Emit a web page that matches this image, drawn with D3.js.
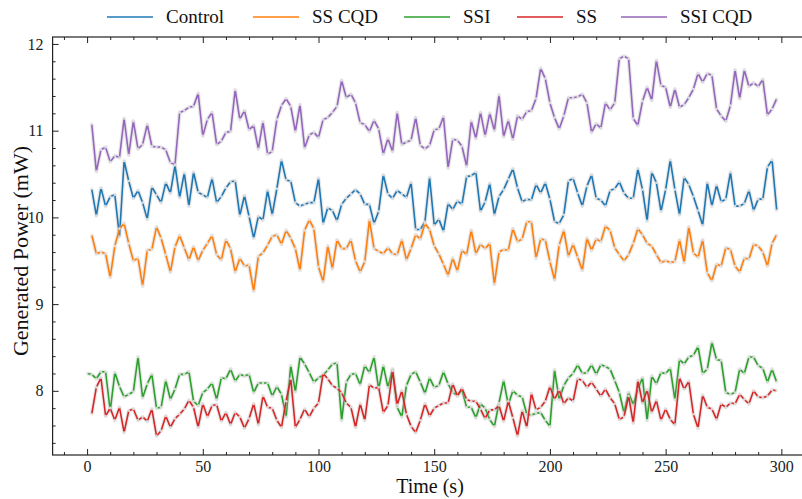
<!DOCTYPE html>
<html><head><meta charset="utf-8">
<script src="https://cdn.jsdelivr.net/npm/d3@7"></script>
<style>body{margin:0;background:#fff;} svg{display:block;}</style>
</head><body>
<script>
const time = d3.range(0, 300, 2); // 0..298 s
const seriesNames = ["Control", "SS CQD", "SSI", "SS", "SSI CQD"];
const colors = ["#1f77b4", "#ff7f0e", "#2ca02c", "#d62728", "#9467bd"];
const control = [null,
10.33,10.02,10.34,10.13,10.24,10.26,9.78,10.65,10.42,10.22,10.31,10.17,9.98,10.35,10.26,10.17,10.40,10.28,10.60,10.23,
10.51,10.13,10.52,10.29,10.26,10.23,10.45,10.17,10.24,10.34,10.41,10.42,10.02,10.25,10.01,9.76,10.01,9.97,10.31,10.03,
10.33,10.66,10.43,10.42,10.17,10.13,10.15,10.17,10.17,10.45,
9.93,10.11,10.08,9.96,10.15,10.22,10.27,10.32,10.27,10.15,10.15,9.93,10.07,10.49,10.27,10.22,10.31,10.27,10.23,10.40,
9.86,9.86,9.95,10.46,9.91,9.98,9.84,10.16,10.09,10.19,10.15,10.47,10.48,10.52,10.07,10.18,10.39,10.03,10.24,10.32,
10.44,10.56,10.34,10.18,10.21,10.20,10.38,10.28,10.40,10.21,9.95,9.93,
10.03,10.42,10.45,10.28,10.13,10.36,10.49,10.22,10.20,10.13,10.31,10.33,10.41,10.28,10.22,10.22,10.56,10.32,9.96,10.52,
10.40,10.07,10.32,10.66,10.32,10.03,10.46,10.38,10.24,10.08,9.91,10.40,10.13,10.37,10.18,10.21,10.52,10.13,10.13,10.16,
10.31,10.08,10.21,10.21,10.58,10.66,10.08];
const ssCqd = [null,
9.80,9.58,9.60,9.58,9.31,9.67,9.87,9.93,9.70,9.50,9.53,9.21,9.62,9.63,9.89,9.76,9.57,9.37,9.66,9.79,
9.65,9.51,9.66,9.50,9.62,9.70,9.79,9.57,9.51,9.74,9.64,9.37,9.53,9.44,9.45,9.15,9.55,9.59,9.68,9.78,
9.80,9.69,9.85,9.76,9.64,9.39,9.85,9.97,9.87,9.43,
9.26,9.67,9.41,9.74,9.64,9.64,9.74,9.50,9.37,9.49,9.97,9.64,9.61,9.58,9.65,9.58,9.57,9.74,9.51,9.64,
9.80,9.75,9.93,9.86,9.67,9.58,9.46,9.33,9.53,9.38,9.62,9.57,9.85,9.58,9.69,9.64,9.70,9.23,9.60,9.63,
9.62,9.87,9.72,9.75,9.95,9.95,9.53,9.75,9.74,9.49,9.28,9.68,
9.85,9.55,9.69,9.54,9.39,9.76,9.62,9.75,9.72,9.90,9.85,9.65,9.57,9.50,9.57,9.70,9.87,9.80,9.70,9.67,
9.57,9.48,9.50,9.48,9.49,9.74,9.48,9.89,9.59,9.54,9.74,9.36,9.27,9.46,9.44,9.65,9.63,9.44,9.37,9.53,
9.52,9.69,9.67,9.60,9.44,9.70,9.80];
const ssi = [8.20,
8.19,8.14,8.22,8.22,7.77,8.21,8.05,7.93,7.96,7.99,8.39,7.92,8.08,8.19,7.80,7.81,8.12,7.90,8.02,8.19,
8.19,8.22,7.88,7.83,7.98,8.02,8.09,7.90,8.15,8.14,8.25,8.11,8.19,8.17,8.19,7.98,8.09,8.09,8.09,7.94,
8.05,7.96,7.70,8.29,7.99,8.39,8.31,8.21,8.10,8.15,
8.18,8.24,8.31,8.32,7.66,8.10,8.19,8.20,8.07,8.29,8.21,8.39,8.02,8.29,8.04,8.25,7.81,7.70,8.06,8.19,
8.22,8.10,7.97,8.15,8.04,8.06,8.22,8.08,7.98,7.95,8.01,7.81,7.81,7.69,7.85,7.80,7.67,7.59,7.86,8.12,
7.84,8.00,7.95,7.93,7.73,7.72,7.74,7.75,7.66,7.59,8.24,7.90,
8.06,8.15,8.20,8.30,8.20,8.21,8.30,8.19,8.30,8.28,8.25,8.12,7.98,7.75,7.98,7.84,8.02,8.15,7.66,8.17,
8.08,8.21,8.20,8.26,7.90,8.36,8.31,8.39,8.41,8.51,8.20,8.25,8.56,8.36,8.35,7.98,7.96,7.98,8.25,8.20,
8.39,8.39,8.29,8.26,8.10,8.25,8.10];
const ss = [null,
7.73,8.04,8.15,7.71,7.80,7.66,7.81,7.52,7.77,7.79,7.66,7.70,7.65,7.79,7.48,7.54,7.71,7.58,7.68,7.73,
7.79,7.89,7.81,7.58,7.85,7.70,7.83,7.84,7.65,7.75,7.61,7.75,7.70,7.57,7.68,7.85,7.61,7.94,7.81,7.80,
7.66,7.58,7.88,8.14,7.58,7.67,7.79,7.70,7.80,7.86,
8.20,8.14,8.06,8.03,7.98,7.86,7.81,7.58,7.85,7.66,8.07,8.03,8.04,7.75,7.83,8.23,7.84,8.00,7.73,7.59,
7.52,7.66,7.85,7.71,7.80,7.83,7.86,7.86,8.08,7.94,8.03,7.90,7.88,7.88,7.79,7.68,7.78,7.78,7.83,7.65,
7.88,7.69,7.48,7.77,7.58,7.97,7.78,7.81,7.88,8.05,7.90,8.01,
7.85,7.92,7.88,8.14,8.12,8.04,8.10,8.02,7.94,8.02,7.92,7.85,7.67,7.70,7.94,7.63,8.12,7.86,8.01,7.75,
7.89,7.66,7.79,7.67,7.61,8.15,8.02,8.11,7.73,7.57,7.95,7.81,7.79,7.67,7.85,7.81,7.86,7.85,7.96,7.90,
7.85,8.00,7.93,7.92,7.94,8.01,8.00];
const ssiCqd = [null,
11.08,10.53,10.78,10.81,10.64,10.71,10.69,11.14,10.72,11.11,10.79,10.84,11.07,10.82,10.81,10.81,10.78,10.63,10.61,11.21,
11.23,11.27,11.28,11.43,10.94,11.13,11.21,10.84,10.88,10.98,10.99,11.47,11.13,11.23,11.01,11.06,10.79,11.10,10.73,10.76,
11.13,11.29,11.37,11.28,10.99,11.30,10.80,10.95,10.98,10.92,11.13,11.15,
11.21,11.28,11.58,11.38,11.42,11.32,11.09,11.07,10.99,11.12,11.02,10.73,10.91,10.76,11.21,10.84,10.87,10.89,11.15,10.83,
10.79,10.83,11.01,11.02,11.16,10.57,10.90,10.89,10.82,10.59,11.11,10.91,11.21,10.94,11.20,11.00,11.41,10.93,11.12,10.90,
11.17,11.13,11.22,11.23,11.37,11.72,11.60,11.32,11.15,11.02,11.17,11.38,
11.38,11.39,11.42,11.32,10.98,11.08,11.03,11.32,11.24,11.32,11.83,11.86,11.83,11.14,11.06,11.34,11.50,11.35,11.81,11.52,
11.50,11.27,11.48,11.27,11.30,11.38,11.48,11.66,11.56,11.66,11.64,11.25,11.17,11.11,11.29,11.70,11.37,11.70,11.51,11.55,
11.51,11.59,11.18,11.25,11.37];
const xTicks = [0, 50, 100, 150, 200, 250, 300];
const yTicks = [8, 9, 10, 11, 12];
const xLabel = "Time (s)";
const yLabel = "Generated Power (mW)";

const allSeries = [control, ssCqd, ssi, ss, ssiCqd];
const W = 802, H = 499;
const mLeft = 52.6, mTop = 37, mBottom = 455;
const x = d3.scaleLinear().domain([-14.9, 312.9]).range([mLeft, 811.2]);
const y = d3.scaleLinear().domain([7.26, 12.08]).range([mBottom, mTop]);
const mRight = x.range()[1];

const svg = d3.select("body").append("svg").attr("width", W).attr("height", H);
const serif = "'Liberation Serif', 'DejaVu Serif', serif";

const plot = svg.append("g");
const line = d3.line().defined(d => d[1] != null).x(d => x(d[0])).y(d => y(d[1]));

allSeries.forEach((vals, i) => {
  const pts = time.map((t, k) => [t, vals[k]]);
  plot.append("path").attr("d", line(pts)).attr("fill", "none")
    .attr("stroke", "#bdbdbd").attr("stroke-opacity", 0.35).attr("stroke-width", 4)
    .attr("stroke-linejoin", "round");
  plot.append("path").attr("d", line(pts)).attr("fill", "none")
    .attr("stroke", colors[i]).attr("stroke-width", 1.6).attr("stroke-linejoin", "round");
  plot.append("g").selectAll("circle").data(pts.filter(p => p[1] != null)).join("circle")
    .attr("cx", p => x(p[0])).attr("cy", p => y(p[1])).attr("r", 1.3)
    .attr("fill", "#e4e4e4").attr("fill-opacity", 0.9);
});

svg.append("rect").attr("x", mLeft).attr("y", mTop).attr("width", mRight - mLeft).attr("height", mBottom - mTop)
  .attr("fill", "none").attr("stroke", "#222").attr("stroke-width", 1.2);

const xMinor = d3.range(-10, 311, 10).filter(v => v % 50 !== 0);
const yMinor = d3.range(7.4, 12.05, 0.2).map(v => +v.toFixed(1)).filter(v => Math.abs(v - Math.round(v)) > 1e-6);

function styleAxis(g) { g.select(".domain").remove(); g.selectAll("line").attr("stroke", "#222").attr("stroke-width", 1); }

svg.append("g").attr("transform", `translate(0,${mBottom})`)
  .call(d3.axisBottom(x).tickValues(xTicks).tickSize(-6).tickPadding(6).tickFormat(d3.format("d")))
  .call(styleAxis).call(g => g.selectAll("text").attr("font-family", serif).attr("font-size", 16).attr("fill", "#222"));
svg.append("g").attr("transform", `translate(0,${mBottom})`)
  .call(d3.axisBottom(x).tickValues(xMinor).tickSize(-3).tickFormat("")).call(styleAxis);
svg.append("g").attr("transform", `translate(0,${mTop})`)
  .call(d3.axisTop(x).tickValues(xTicks).tickSize(-6).tickFormat("")).call(styleAxis);
svg.append("g").attr("transform", `translate(0,${mTop})`)
  .call(d3.axisTop(x).tickValues(xMinor).tickSize(-3).tickFormat("")).call(styleAxis);

svg.append("g").attr("transform", `translate(${mLeft},0)`)
  .call(d3.axisLeft(y).tickValues(yTicks).tickSize(-6).tickPadding(9).tickFormat(d3.format("d")))
  .call(styleAxis).call(g => g.selectAll("text").attr("font-family", serif).attr("font-size", 16).attr("fill", "#222"));
svg.append("g").attr("transform", `translate(${mLeft},0)`)
  .call(d3.axisLeft(y).tickValues(yMinor).tickSize(-3).tickFormat("")).call(styleAxis);
svg.append("g").attr("transform", `translate(${mRight},0)`)
  .call(d3.axisRight(y).tickValues(yTicks).tickSize(-6).tickFormat("")).call(styleAxis);

svg.append("text").attr("x", 430).attr("y", 493).attr("text-anchor", "middle")
  .attr("font-family", serif).attr("font-size", 20).attr("fill", "#111").text(xLabel);
svg.append("text").attr("transform", "translate(28,251) rotate(-90)").attr("text-anchor", "middle")
  .attr("font-family", serif).attr("font-size", 22).attr("fill", "#111").text(yLabel);

const legX = [107, 253, 404, 517, 621];
const leg = svg.append("g");
seriesNames.forEach((n, i) => {
  leg.append("line").attr("x1", legX[i]).attr("x2", legX[i] + 46).attr("y1", 17).attr("y2", 17)
    .attr("stroke", colors[i]).attr("stroke-width", 1.6);
  leg.append("text").attr("x", legX[i] + 59).attr("y", 23)
    .attr("font-family", serif).attr("font-size", 19).attr("fill", "#111").text(n);
});
</script>
</body></html>
